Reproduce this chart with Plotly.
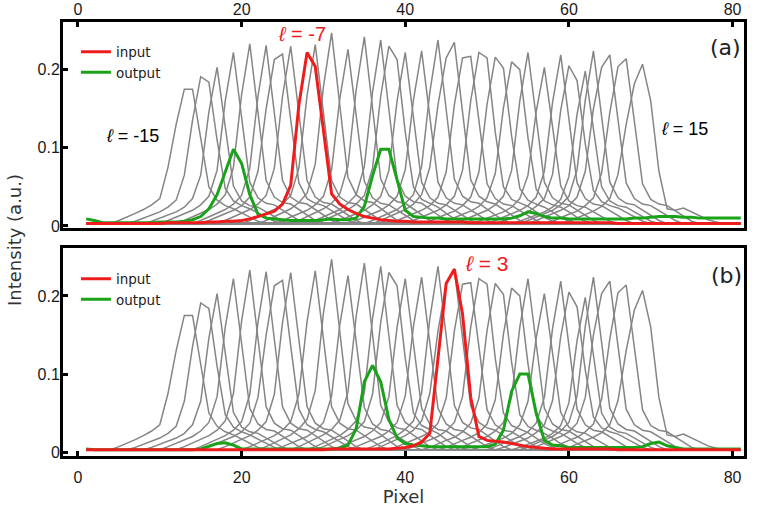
import plotly.graph_objects as go

# Pixel index along the detector line
pixels = list(range(1, 82))

# Reference mode profiles for l = -15 ... 15 (same set drawn in both panels).
# Each profile: first pixel of its measured window and the intensities in it;
# outside the window the profile sits on the detector floor.
ell_values = list(range(-15, 16))
detector_floor = 0.003
profile_start = [5, 7, 9, 11, 13, 15, 16, 18, 21, 23, 25, 27, 29, 30, 32, 34,
                 36, 37, 39, 41, 43, 45, 47, 49, 51, 52, 54, 55, 56, 58, 60]
profile_values = [
    [0.007, 0.011, 0.016, 0.021, 0.027, 0.035, 0.075, 0.130, 0.175, 0.175, 0.110, 0.050, 0.033, 0.026, 0.022, 0.017, 0.011, 0.006],
    [0.006, 0.010, 0.014, 0.018, 0.024, 0.033, 0.065, 0.135, 0.191, 0.184, 0.110, 0.048, 0.032, 0.026, 0.022, 0.017, 0.011, 0.006],
    [0.006, 0.010, 0.014, 0.018, 0.024, 0.035, 0.065, 0.146, 0.203, 0.126, 0.051, 0.032, 0.026, 0.024, 0.018, 0.012, 0.006],
    [0.007, 0.011, 0.016, 0.020, 0.027, 0.038, 0.071, 0.160, 0.222, 0.138, 0.056, 0.036, 0.029, 0.027, 0.020, 0.013, 0.007],
    [0.007, 0.012, 0.016, 0.021, 0.028, 0.040, 0.075, 0.168, 0.233, 0.144, 0.058, 0.037, 0.030, 0.028, 0.021, 0.014, 0.007],
    [0.007, 0.012, 0.016, 0.021, 0.028, 0.039, 0.074, 0.166, 0.231, 0.143, 0.058, 0.037, 0.030, 0.028, 0.021, 0.014, 0.007],
    [0.007, 0.011, 0.015, 0.020, 0.026, 0.037, 0.070, 0.150, 0.213, 0.220, 0.136, 0.055, 0.035, 0.029, 0.026, 0.020, 0.013, 0.007],
    [0.007, 0.012, 0.016, 0.021, 0.028, 0.039, 0.074, 0.166, 0.230, 0.143, 0.058, 0.037, 0.030, 0.028, 0.021, 0.014, 0.007],
    [0.007, 0.012, 0.016, 0.021, 0.028, 0.039, 0.074, 0.167, 0.232, 0.144, 0.058, 0.037, 0.030, 0.028, 0.021, 0.014, 0.007],
    [0.007, 0.012, 0.017, 0.022, 0.030, 0.042, 0.079, 0.178, 0.247, 0.153, 0.062, 0.040, 0.032, 0.030, 0.022, 0.015, 0.007],
    [0.007, 0.011, 0.016, 0.020, 0.027, 0.038, 0.072, 0.163, 0.226, 0.140, 0.057, 0.036, 0.029, 0.027, 0.020, 0.014, 0.007],
    [0.007, 0.012, 0.017, 0.022, 0.029, 0.041, 0.077, 0.174, 0.242, 0.150, 0.060, 0.039, 0.031, 0.029, 0.022, 0.015, 0.007],
    [0.007, 0.012, 0.017, 0.021, 0.029, 0.040, 0.076, 0.171, 0.238, 0.148, 0.060, 0.038, 0.031, 0.029, 0.021, 0.014, 0.007],
    [0.007, 0.012, 0.016, 0.021, 0.028, 0.039, 0.074, 0.166, 0.230, 0.213, 0.120, 0.050, 0.034, 0.029, 0.024, 0.016, 0.009, 0.005],
    [0.007, 0.011, 0.016, 0.020, 0.027, 0.038, 0.071, 0.160, 0.222, 0.138, 0.056, 0.036, 0.029, 0.027, 0.020, 0.013, 0.007],
    [0.007, 0.011, 0.016, 0.020, 0.027, 0.038, 0.072, 0.161, 0.224, 0.139, 0.056, 0.036, 0.029, 0.027, 0.020, 0.013, 0.007],
    [0.007, 0.012, 0.017, 0.021, 0.029, 0.040, 0.076, 0.171, 0.238, 0.148, 0.060, 0.038, 0.031, 0.029, 0.021, 0.014, 0.007],
    [0.007, 0.012, 0.016, 0.021, 0.028, 0.040, 0.075, 0.155, 0.215, 0.235, 0.146, 0.059, 0.038, 0.031, 0.028, 0.021, 0.014, 0.007],
    [0.007, 0.011, 0.015, 0.020, 0.026, 0.037, 0.069, 0.155, 0.215, 0.217, 0.135, 0.054, 0.035, 0.028, 0.026, 0.020, 0.013, 0.007],
    [0.007, 0.011, 0.016, 0.020, 0.027, 0.038, 0.071, 0.160, 0.222, 0.215, 0.120, 0.050, 0.034, 0.029, 0.025, 0.018, 0.011, 0.006],
    [0.006, 0.011, 0.015, 0.019, 0.026, 0.037, 0.069, 0.156, 0.216, 0.202, 0.115, 0.048, 0.033, 0.028, 0.024, 0.018, 0.011, 0.006],
    [0.006, 0.011, 0.015, 0.019, 0.025, 0.036, 0.067, 0.151, 0.210, 0.200, 0.113, 0.047, 0.032, 0.027, 0.024, 0.018, 0.011, 0.006],
    [0.007, 0.011, 0.016, 0.020, 0.027, 0.038, 0.071, 0.160, 0.222, 0.138, 0.056, 0.036, 0.029, 0.027, 0.020, 0.013, 0.007],
    [0.006, 0.010, 0.014, 0.018, 0.024, 0.035, 0.065, 0.146, 0.203, 0.126, 0.051, 0.032, 0.026, 0.024, 0.018, 0.012, 0.006],
    [0.007, 0.011, 0.015, 0.020, 0.026, 0.037, 0.070, 0.158, 0.219, 0.136, 0.055, 0.035, 0.028, 0.026, 0.020, 0.013, 0.007],
    [0.006, 0.010, 0.014, 0.018, 0.025, 0.035, 0.066, 0.148, 0.205, 0.186, 0.105, 0.045, 0.031, 0.026, 0.023, 0.017, 0.011, 0.006],
    [0.006, 0.010, 0.014, 0.018, 0.024, 0.034, 0.063, 0.143, 0.198, 0.123, 0.050, 0.032, 0.026, 0.024, 0.018, 0.012, 0.006],
    [0.007, 0.011, 0.016, 0.020, 0.027, 0.038, 0.072, 0.161, 0.224, 0.139, 0.056, 0.036, 0.029, 0.027, 0.020, 0.013, 0.007],
    [0.007, 0.011, 0.015, 0.020, 0.026, 0.037, 0.070, 0.150, 0.203, 0.219, 0.136, 0.055, 0.035, 0.028, 0.026, 0.020, 0.013, 0.007],
    [0.006, 0.011, 0.015, 0.019, 0.026, 0.036, 0.068, 0.145, 0.204, 0.214, 0.133, 0.054, 0.034, 0.028, 0.026, 0.019, 0.013, 0.006],
    [0.006, 0.010, 0.014, 0.019, 0.025, 0.035, 0.066, 0.130, 0.182, 0.207, 0.160, 0.070, 0.022, 0.020, 0.023, 0.018, 0.012, 0.008, 0.005],
]

# Panel (a): input l = -7
input_a = [
    0.003, 0.003, 0.003, 0.003, 0.003, 0.003, 0.003, 0.003, 0.003, 0.003,
    0.004, 0.004, 0.004, 0.004, 0.004, 0.005, 0.005, 0.006, 0.006, 0.007,
    0.009, 0.012, 0.016, 0.019, 0.028, 0.052, 0.155, 0.222, 0.204, 0.120,
    0.041, 0.028, 0.021, 0.016, 0.012, 0.010, 0.008, 0.007, 0.006, 0.006,
    0.005, 0.005, 0.005, 0.005, 0.005, 0.005, 0.005, 0.004, 0.004, 0.004,
    0.004, 0.004, 0.004, 0.004, 0.004, 0.004, 0.004, 0.004, 0.004, 0.004,
    0.004, 0.004, 0.004, 0.004, 0.004, 0.003, 0.003, 0.003, 0.003, 0.003,
    0.003, 0.003, 0.003, 0.003, 0.003, 0.003, 0.003, 0.003, 0.003, 0.003, 0.003,
]
output_a = [
    0.009, 0.007, 0.004, 0.004, 0.004, 0.004, 0.004, 0.004, 0.004, 0.005,
    0.005, 0.005, 0.006, 0.008, 0.012, 0.022, 0.040, 0.070, 0.098, 0.080,
    0.040, 0.015, 0.010, 0.009, 0.008, 0.007, 0.007, 0.007, 0.007, 0.008,
    0.009, 0.008, 0.008, 0.010, 0.025, 0.064, 0.098, 0.098, 0.060, 0.020,
    0.012, 0.011, 0.010, 0.010, 0.009, 0.009, 0.009, 0.009, 0.009, 0.009,
    0.009, 0.009, 0.010, 0.013, 0.018, 0.016, 0.012, 0.010, 0.010, 0.009,
    0.009, 0.009, 0.009, 0.009, 0.009, 0.009, 0.009, 0.010, 0.010, 0.011,
    0.012, 0.012, 0.012, 0.011, 0.011, 0.010, 0.010, 0.010, 0.010, 0.010, 0.010,
]

# Panel (b): input l = 3
input_b = [
    0.003, 0.003, 0.003, 0.003, 0.003, 0.003, 0.003, 0.003, 0.003, 0.003,
    0.003, 0.003, 0.003, 0.003, 0.003, 0.003, 0.003, 0.003, 0.003, 0.003,
    0.003, 0.003, 0.003, 0.003, 0.003, 0.003, 0.003, 0.003, 0.003, 0.003,
    0.004, 0.004, 0.004, 0.004, 0.004, 0.004, 0.004, 0.004, 0.005, 0.006,
    0.008, 0.013, 0.024, 0.120, 0.216, 0.234, 0.177, 0.070, 0.020, 0.015,
    0.014, 0.013, 0.011, 0.009, 0.007, 0.006, 0.005, 0.004, 0.004, 0.004,
    0.004, 0.004, 0.004, 0.004, 0.004, 0.003, 0.003, 0.003, 0.003, 0.003,
    0.003, 0.003, 0.003, 0.003, 0.003, 0.003, 0.003, 0.003, 0.003, 0.003, 0.003,
]
output_b = [
    0.004, 0.003, 0.003, 0.003, 0.003, 0.003, 0.003, 0.003, 0.003, 0.003,
    0.003, 0.003, 0.003, 0.003, 0.004, 0.007, 0.011, 0.012, 0.009, 0.004,
    0.004, 0.004, 0.004, 0.004, 0.004, 0.004, 0.004, 0.004, 0.004, 0.004,
    0.004, 0.005, 0.009, 0.030, 0.090, 0.111, 0.090, 0.042, 0.018, 0.011,
    0.009, 0.008, 0.007, 0.007, 0.007, 0.007, 0.007, 0.007, 0.007, 0.007,
    0.010, 0.028, 0.078, 0.100, 0.100, 0.050, 0.015, 0.009, 0.008, 0.006,
    0.006, 0.006, 0.006, 0.006, 0.006, 0.006, 0.006, 0.006, 0.007, 0.011,
    0.013, 0.008, 0.006, 0.004, 0.004, 0.004, 0.004, 0.004, 0.004, 0.004, 0.004,
]

x_ticks = [0, 20, 40, 60, 80]
y_ticks = [0, 0.1, 0.2]
y_tick_text = ["0", "0.1", "0.2"]

GRAY = "#858585"
RED = "#ee1c1c"
GREEN = "#1aa31a"
TICK_FONT = dict(family="Liberation Sans, Arial, sans-serif", size=16, color="#1a1a1a")
TEXT_FONT = "DejaVu Sans, Verdana, sans-serif"
ELL_FONT = "Liberation Sans, DejaVu Sans, sans-serif"


def full_profile(start, values):
    row = [detector_floor] * len(pixels)
    for k, v in enumerate(values):
        row[start - 1 + k] = v
    return row


fig = go.Figure()

for xa, ya in (("x", "y"), ("x2", "y2")):
    for start, values in zip(profile_start, profile_values):
        fig.add_trace(go.Scatter(
            x=pixels, y=full_profile(start, values), mode="lines",
            line=dict(color=GRAY, width=1.5), xaxis=xa, yaxis=ya,
            showlegend=False, hoverinfo="skip"))

panels = (("x", "y", "legend", input_a, output_a),
          ("x2", "y2", "legend2", input_b, output_b))
for xa, ya, leg, inp, out in panels:
    fig.add_trace(go.Scatter(
        x=pixels, y=out, mode="lines", name="output",
        line=dict(color=GREEN, width=3), xaxis=xa, yaxis=ya,
        legend=leg, legendrank=2))
    fig.add_trace(go.Scatter(
        x=pixels, y=inp, mode="lines", name="input",
        line=dict(color=RED, width=3), xaxis=xa, yaxis=ya,
        legend=leg, legendrank=1))

axis_common = dict(
    showline=True, linewidth=3, linecolor="black", mirror=True,
    ticks="inside", ticklen=5, tickwidth=3, tickcolor="black",
    showgrid=False, zeroline=False, tickfont=TICK_FONT, automargin=False,
)

fig.update_layout(
    width=760, height=507,
    margin=dict(l=63, r=16, t=22, b=51),
    paper_bgcolor="white", plot_bgcolor="white",
    xaxis=dict(axis_common, side="top", anchor="y", range=[-1.83, 81.4],
               tickvals=x_ticks, ticklabelstandoff=-2),
    xaxis2=dict(axis_common, side="bottom", anchor="y2", range=[-1.83, 81.4],
                tickvals=x_ticks, ticklabelstandoff=5,
                title=dict(text="Pixel", standoff=3,
                           font=dict(family=TEXT_FONT, size=18, color="#333333"))),
    yaxis=dict(axis_common, domain=[0.5247, 1.0], anchor="x", range=[-0.003, 0.261],
               tickvals=y_ticks, ticktext=y_tick_text, ticklabelstandoff=-3),
    yaxis2=dict(axis_common, domain=[0.0, 0.4786], anchor="x2", range=[-0.005, 0.261],
                tickvals=y_ticks, ticktext=y_tick_text, ticklabelstandoff=-3),
    legend=dict(x=0.019, y=0.9667, xanchor="left", yanchor="top",
                bgcolor="rgba(0,0,0,0)", borderwidth=0, tracegroupgap=0,
                font=dict(family=TEXT_FONT, size=13.5, color="#222222")),
    legend2=dict(x=0.019, y=0.4436, xanchor="left", yanchor="top",
                 bgcolor="rgba(0,0,0,0)", borderwidth=0, tracegroupgap=0,
                 font=dict(family=TEXT_FONT, size=13.5, color="#222222")),
    showlegend=True,
)

annotations = [
    dict(text="<i>ℓ</i> = -7", x=27.4, y=0.246, xref="x", yref="y",
         font=dict(family=ELL_FONT, size=20, color=RED)),
    dict(text="<i>ℓ</i> = -15", x=6.7, y=0.115, xref="x", yref="y",
         font=dict(family=ELL_FONT, size=18, color="black")),
    dict(text="<i>ℓ</i> = 15", x=74.1, y=0.124, xref="x", yref="y",
         font=dict(family=ELL_FONT, size=18, color="black")),
    dict(text="(a)", x=79.1, y=0.228, xref="x", yref="y",
         font=dict(family=TEXT_FONT, size=22, color="#222222")),
    dict(text="<i>ℓ</i> = 3", x=49.9, y=0.241, xref="x2", yref="y2",
         font=dict(family=ELL_FONT, size=21, color=RED)),
    dict(text="(b)", x=79.2, y=0.2265, xref="x2", yref="y2",
         font=dict(family=TEXT_FONT, size=22, color="#222222")),
    dict(text="Intensity (a.u.)", x=-0.0705, y=0.4977, xref="paper", yref="paper",
         textangle=-90, font=dict(family=TEXT_FONT, size=18, color="#333333")),
]
for a in annotations:
    a.update(showarrow=False, xanchor="center", yanchor="middle")
fig.update_layout(annotations=annotations)

fig.write_html("out.html")
